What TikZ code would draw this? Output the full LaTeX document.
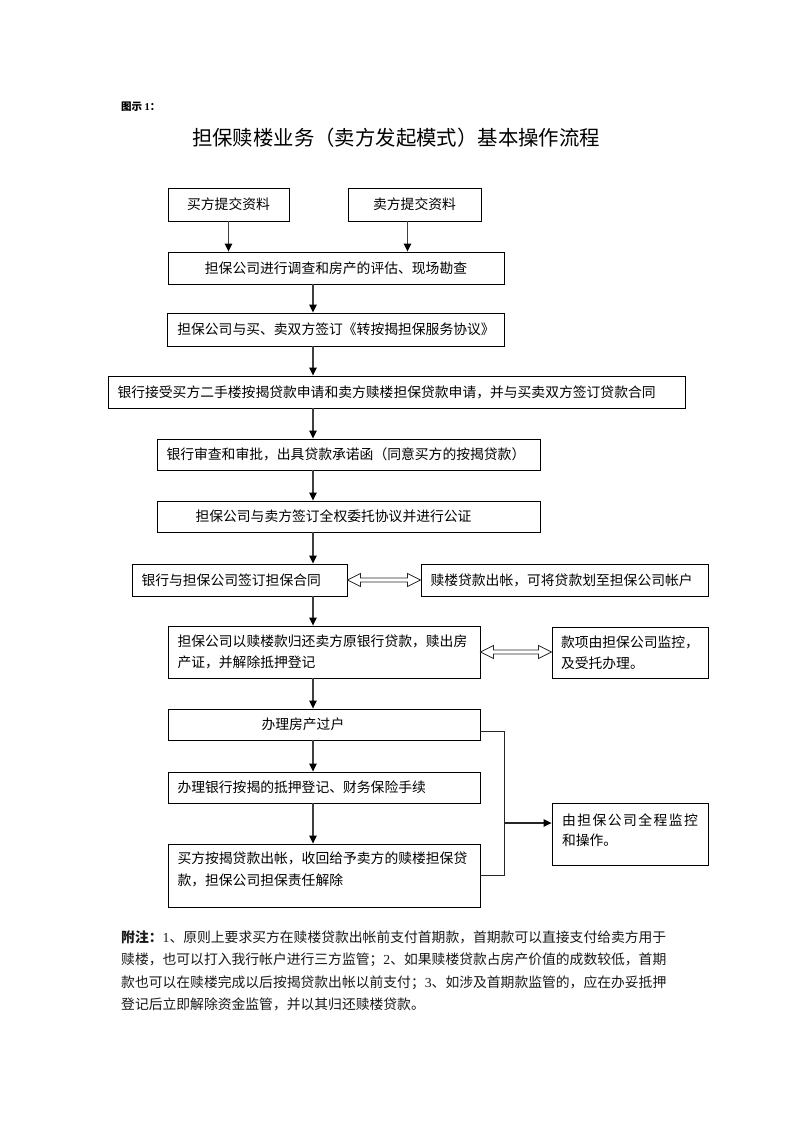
\documentclass[tikz,border=0pt]{standalone}
\usepackage{fontspec}
\newfontfamily\cjk{Noto Sans CJK SC}
\newfontfamily\lat{Liberation Serif}
\usetikzlibrary{arrows.meta,calc}
\newcommand\boxfont{\cjk\fontsize{13.8pt}{21pt}\selectfont}
\newcommand\dblarr[2]{%
  \draw[dbl] let \p1=(#1), \p2=(#2) in
    (\x1,\y1) -- (\x1+13pt,\y1+6.5pt) -- (\x1+13pt,\y1+2pt) -- (\x2-13pt,\y1+2pt)
    -- (\x2-13pt,\y1+6.5pt) -- (\x2,\y1) -- (\x2-13pt,\y1-6.5pt) -- (\x2-13pt,\y1-2pt)
    -- (\x1+13pt,\y1-2pt) -- (\x1+13pt,\y1-6.5pt) -- cycle;}
\begin{document}
\begin{tikzpicture}[x=1pt,y=-1pt,
  box/.style={draw=black, line width=0.9pt, inner xsep=9.5pt, inner ysep=0pt, font=\boxfont},
  lbox/.style={box, align=left},
  arr/.style={draw=black!75, line width=1.1pt, -{Triangle[length=8pt,width=7.5pt,color=black]}},
  line/.style={draw=black!85, line width=0.9pt},
  dbl/.style={draw=black!85, line width=0.8pt, fill=white}]
\fill[white] (0,0) rectangle (793,1122);
\useasboundingbox (0,0) rectangle (793,1122);

\node[anchor=west, inner sep=0pt, font={\cjk\bfseries\fontsize{10.5pt}{12pt}\selectfont}] (fig) at (121,107) {图示 {\lat\bfseries 1}：};
\node[inner sep=0pt, font={\cjk\fontsize{20.4pt}{24pt}\selectfont}] (title) at (396,138) {担保赎楼业务（卖方发起模式）基本操作流程};

\coordinate (spine) at (313,0);
\coordinate (bx) at (504,0);

\node[box, minimum width=121, minimum height=33] (A) at (228.5,204.5) {买方提交资料};
\node[box, minimum width=133, minimum height=33] (B) at (414.5,204.5) {卖方提交资料};
\node[box, minimum width=336, minimum height=32] (C) at (336,268) {担保公司进行调查和房产的评估、现场勘查};
\node[box, minimum width=336, minimum height=33] (D) at (336,329.5) {担保公司与买、卖双方签订《转按揭担保服务协议》};
\node[lbox, minimum width=577, text width=558, minimum height=32] (E) at (396.5,392) {银行接受买方二手楼按揭贷款申请和卖方赎楼担保贷款申请，并与买卖双方签订贷款合同};
\node[lbox, minimum width=383, text width=364, minimum height=31] (F) at (348.5,454.5) {银行审查和审批，出具贷款承诺函（同意买方的按揭贷款）};
\node[lbox, minimum width=383, text width=364, minimum height=31] (G) at (348.5,516.5) {\hspace*{29pt}担保公司与卖方签订全权委托协议并进行公证};
\node[lbox, minimum width=215, text width=196, minimum height=32] (H) at (239.5,580) {银行与担保公司签订担保合同};
\node[lbox, minimum width=287, text width=268, minimum height=32] (I) at (564.5,580) {赎楼贷款出帐，可将贷款划至担保公司帐户};
\node[lbox, minimum width=312, text width=293, minimum height=52] (J) at (324,652) {担保公司以赎楼款归还卖方原银行贷款，赎出房\\产证，并解除抵押登记};
\node[lbox, inner xsep=9pt, minimum width=156, text width=138, minimum height=51] (K) at (630,652.5) {款项由担保公司监控，\\及受托办理。};
\node[lbox, minimum width=312, text width=293, minimum height=31] (L) at (324,724.5) {\hspace*{84pt}办理房产过户};
\node[lbox, minimum width=312, text width=293, minimum height=31] (M) at (324,787.5) {办理银行按揭的抵押登记、财务保险手续};
\node[box, minimum width=312, minimum height=63] (N) at (324,875.5) {\parbox[c][49pt][t]{293pt}{\baselineskip=22pt\rule{0pt}{12pt}买方按揭贷款出帐，收回给予卖方的赎楼担保贷\\款，担保公司担保责任解除}};
\node[box, inner xsep=10pt, minimum width=156, minimum height=62] (O) at (630,834) {\parbox[c][42pt][t]{136pt}{\baselineskip=20pt\rule{0pt}{12pt}\makebox[136pt]{由\hfill 担\hfill 保\hfill 公\hfill 司\hfill 全\hfill 程\hfill 监\hfill 控}\\和操作。}};

% arrows
\draw[arr] (A.south) -- (A.south |- C.north);
\coordinate (bs) at ([xshift=-7pt]B.south);
\draw[arr] (bs) -- (bs |- C.north);
\draw[arr] (C.south -| spine) -- (D.north -| spine);
\draw[arr] (D.south -| spine) -- (E.north -| spine);
\draw[arr] (E.south -| spine) -- (F.north -| spine);
\draw[arr] (F.south -| spine) -- (G.north -| spine);
\draw[arr] (G.south -| spine) -- (H.north -| spine);
\draw[arr] (H.south -| spine) -- (J.north -| spine);
\draw[arr] (J.south -| spine) -- (L.north -| spine);
\draw[arr] (L.south -| spine) -- (M.north -| spine);
\draw[arr] (M.south -| spine) -- (N.north -| spine);

% double arrows
\dblarr{H.east}{I.west}
\dblarr{J.east}{K.west}

% bracket
\coordinate (lb) at ([yshift=-6.5pt]L.east);
\draw[line] (lb) -- (lb -| bx) -- (N.east -| bx) -- (N.east);
\coordinate (oin) at ([yshift=11pt]O.west);
\draw[arr, draw=black!85] (oin -| bx) -- (oin);

% note
\node[anchor=north west, inner sep=0pt, align=left, text=black!90,
  font={\cjk\fontsize{13.8pt}{22.3pt}\selectfont}] (note) at (121,930.5)
{{\bfseries 附注：}{\lat 1}、原则上要求买方在赎楼贷款出帐前支付首期款，首期款可以直接支付给卖方用于\\
赎楼，也可以打入我行帐户进行三方监管；{\lat 2}、如果赎楼贷款占房产价值的成数较低，首期\\
款也可以在赎楼完成以后按揭贷款出帐以前支付；{\lat 3}、如涉及首期款监管的，应在办妥抵押\\
登记后立即解除资金监管，并以其归还赎楼贷款。};
\end{tikzpicture}
\end{document}
